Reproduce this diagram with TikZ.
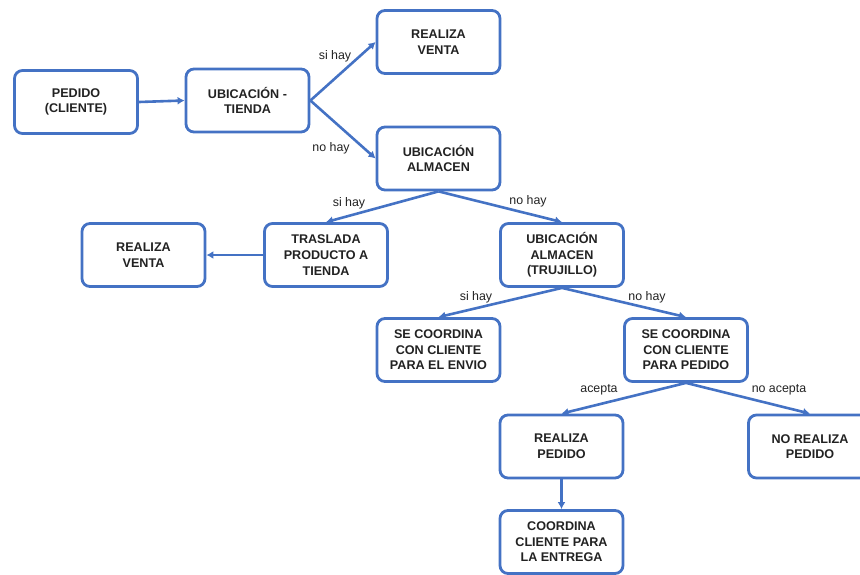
\documentclass[tikz,border=0pt]{standalone}
\usepackage{fontspec}
\setmainfont{Liberation Sans}
\usetikzlibrary{arrows.meta,positioning}
\definecolor{flujo}{HTML}{4472C4}
\definecolor{texto}{HTML}{222222}
\begin{document}
\begin{tikzpicture}[x=1pt,y=-1pt,
    paso/.style={draw=flujo, line width=2.8pt, rounded corners=8pt, align=center,
      minimum width=123pt, minimum height=63pt, text=texto,
      font=\fontsize{12.6}{15.6}\selectfont\bfseries},
    etiq/.style={text=texto, inner sep=0pt, font=\fontsize{12.4}{14}\selectfont},
    flecha/.style={draw=flujo, line width=2.6pt, -{Latex[length=7pt,width=8pt]}}]
                \useasboundingbox (0,0) rectangle (860,574);
                % cajas
                \node[paso] (pedido) at (76,102) {PEDIDO\\(CLIENTE)};
                \node[paso] (tienda) at (247.5,100.5) {UBICACIÓN -\\TIENDA};
                \node[paso] (venta1) at (438.5,42) {REALIZA\\VENTA};
                \node[paso] (almacen) at (438.5,158.5) {UBICACIÓN\\ALMACEN};
                \node[paso] (venta2) at (143.5,255) {REALIZA\\VENTA};
                \node[paso] (traslada) at (326,255) {TRASLADA\\PRODUCTO A\\TIENDA};
                \node[paso] (trujillo) at (562,255) {UBICACIÓN\\ALMACEN\\(TRUJILLO)};
                \node[paso] (envio) at (438.5,350) {SE COORDINA\\CON CLIENTE\\PARA EL ENVIO};
                \node[paso] (coordped) at (686,350) {SE COORDINA\\CON CLIENTE\\PARA PEDIDO};
                \node[paso] (realped) at (561.5,446.5) {REALIZA\\PEDIDO};
                \node[paso] (norealped) at (810,446.5) {NO REALIZA\\PEDIDO};
                \node[paso] (entrega) at (561.5,542) {COORDINA\\CLIENTE PARA\\LA ENTREGA};
                % flechas
                \draw[flecha] (pedido.east) -- (tienda.west);
                \draw[flecha] (tienda.east) -- (venta1.west);
                \draw[flecha] (tienda.east) -- (almacen.west);
                \draw[flecha] (almacen.south) -- (traslada.north);
                \draw[flecha] (almacen.south) -- (trujillo.north);
                \draw[flecha] (traslada.west) -- (venta2.east);
                \draw[flecha] (trujillo.south) -- (envio.north);
                \draw[flecha] (trujillo.south) -- (coordped.north);
                \draw[flecha] (coordped.south) -- (realped.north);
                \draw[flecha] (coordped.south) -- (norealped.north);
                \draw[flecha] (realped.south) -- (entrega.north);
                % etiquetas
                \node[etiq] (si1) at (335,56) {si hay};
                \node[etiq] (no1) at (331,148) {no hay};
                \node[etiq] (si2) at (349,203) {si hay};
                \node[etiq] (no2) at (528,201) {no hay};
                \node[etiq] (si3) at (476,297) {si hay};
                \node[etiq] (no3) at (647,297) {no hay};
                \node[etiq] (acepta) at (599,390) {acepta};
                \node[etiq] (noacepta) at (779,390) {no acepta};
            \end{tikzpicture}
\end{document}
